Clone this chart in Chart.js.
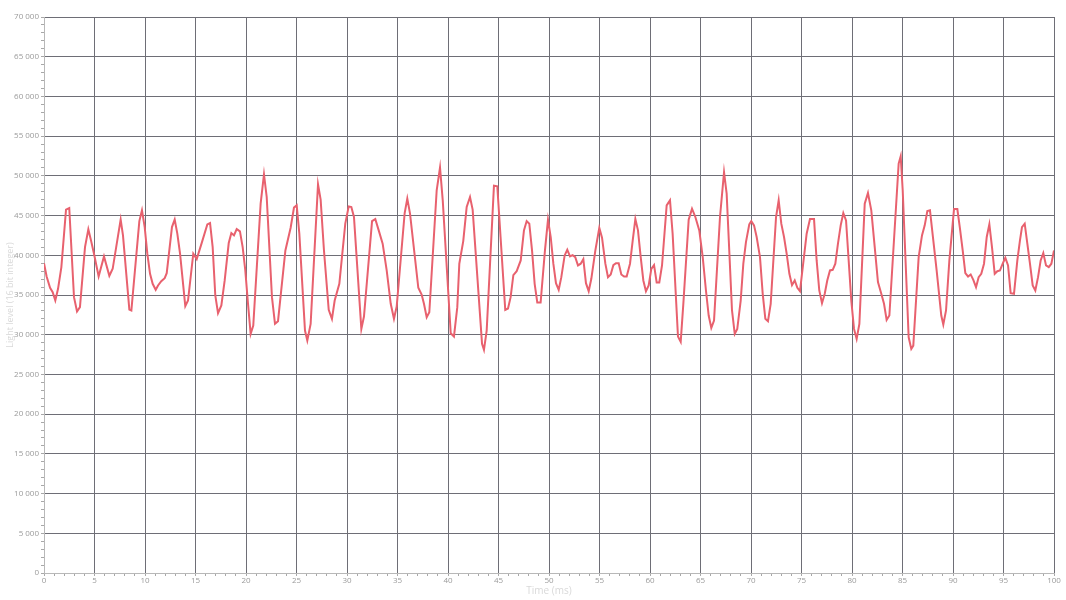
<!DOCTYPE html>
<html>
<head>
<meta charset="utf-8">
<script src="https://cdn.jsdelivr.net/npm/chart.js@4.4.1/dist/chart.umd.min.js"></script>
<style>
html,body{margin:0;padding:0;background:#fff;}
#wrap{width:1066px;height:600px;position:relative;}
</style>
</head>
<body>
<div id="wrap"><canvas id="c" width="1066" height="600"></canvas></div>
<script>
const times = [0.00,0.26,0.60,0.86,1.12,1.39,1.72,2.18,2.50,2.97,3.27,3.56,4.06,4.39,4.65,4.95,5.41,5.94,6.47,6.80,7.59,7.82,8.45,8.65,9.44,9.70,9.97,10.23,10.50,10.76,11.06,11.29,11.61,11.95,12.15,12.67,12.94,13.20,13.47,13.99,14.26,14.78,15.12,15.64,16.17,16.44,16.70,16.96,17.23,17.56,17.89,18.29,18.55,18.81,19.08,19.40,19.67,19.93,20.20,20.46,20.72,21.45,21.78,22.05,22.57,22.87,23.17,23.90,24.42,24.75,25.02,25.28,25.84,26.07,26.40,27.13,27.39,27.72,28.19,28.51,28.78,29.24,29.83,30.17,30.43,30.69,31.42,31.68,32.48,32.80,33.14,33.53,33.93,34.33,34.65,34.92,35.71,35.97,36.24,37.06,37.39,37.62,37.89,38.15,38.88,39.21,39.48,40.27,40.59,40.92,41.12,41.51,41.85,42.18,42.44,43.37,43.56,43.83,44.55,44.88,45.67,45.94,46.20,46.47,46.80,47.20,47.52,47.79,48.05,48.32,48.58,48.84,49.17,49.60,49.90,50.17,50.43,50.69,50.96,51.22,51.55,51.81,52.08,52.34,52.60,52.87,53.14,53.40,53.66,53.93,54.19,54.59,54.98,55.25,55.58,55.84,56.11,56.37,56.63,56.90,57.16,57.43,57.69,58.02,58.29,58.55,58.81,59.08,59.34,59.60,59.87,60.13,60.40,60.66,60.92,61.19,61.65,61.98,62.24,62.77,63.04,63.30,63.83,64.16,64.49,64.88,65.22,65.54,65.81,66.07,66.34,66.93,67.33,67.59,68.12,68.39,68.64,68.98,69.24,69.50,69.83,70.03,70.30,70.56,70.89,71.16,71.42,71.68,71.95,72.48,72.74,73.00,73.27,73.53,73.80,74.06,74.33,74.59,74.85,75.51,75.84,76.24,76.50,76.76,77.03,77.30,77.55,77.82,78.09,78.35,78.61,78.88,79.14,79.41,79.67,79.93,80.20,80.46,80.73,81.26,81.58,81.91,82.25,82.57,82.90,83.17,83.43,83.70,84.62,84.82,85.02,85.61,85.87,86.07,86.60,86.93,87.20,87.46,87.72,88.05,88.38,88.84,89.04,89.31,89.64,90.10,90.43,90.69,90.96,91.22,91.49,91.75,92.01,92.28,92.54,92.80,93.07,93.34,93.60,93.86,94.13,94.39,94.65,94.92,95.18,95.45,95.71,96.04,96.37,96.63,96.83,97.10,97.36,97.62,97.89,98.15,98.42,98.68,98.94,99.21,99.48,99.74,100.00];
const lightLevel = [39000,37330,35900,35360,34300,35780,38510,45750,45950,34730,32920,33470,41030,43260,41880,40200,37330,39860,37420,38300,44490,42500,33170,33050,44310,45660,43550,40200,37670,36410,35660,36200,36740,37120,37750,43550,44490,42720,40200,33600,34300,40200,39520,41660,43890,44060,41030,34940,32710,33680,36830,41540,42800,42500,43300,43010,41030,38090,33890,30110,31150,46500,50200,47340,34730,31370,31700,40610,43470,46000,46290,42720,30520,29260,31370,48940,47010,40610,33130,32000,34300,36410,43980,46160,46080,44820,30730,32290,44310,44560,43140,41460,38090,33890,32000,33550,45320,47130,45240,35910,35060,33890,32200,32830,48180,51040,46920,30180,29770,33470,38940,41790,46080,47340,45750,28850,28090,30520,48770,48690,33130,33300,34730,37500,38000,39350,43140,44310,43980,40610,36410,34060,34060,40610,44490,42300,38940,36490,35660,37250,39980,40700,39860,40020,39770,38720,38940,39520,36490,35480,37040,40610,43470,42220,38940,37250,37590,38760,39010,39010,37590,37330,37330,38940,41880,44560,43140,39770,36830,35480,36200,38300,38760,36580,36580,38720,46290,46920,42720,29770,29100,33890,44490,45870,44820,43140,39770,35570,32420,30860,31780,44820,50450,47760,33050,30110,30730,34300,38940,41660,43890,44310,43770,42300,39770,35150,32000,31700,33890,44820,46920,43980,42300,40200,37670,36240,36830,35910,35480,42720,44560,44560,39350,35570,33970,35150,36830,38090,38170,38940,41460,43770,45320,44400,39350,34300,30730,29470,31370,46500,47840,45660,41030,36620,35150,33890,31870,32420,51550,52470,48180,29680,28210,28630,39770,42500,43770,45570,45660,41880,38090,32420,31280,33050,39350,45820,45820,43350,40610,37750,37330,37590,36910,35990,37250,37670,38940,42300,43890,41030,37670,38000,38090,38940,39690,38720,35230,35150,39350,41880,43550,43980,41460,38940,36200,35570,37250,39350,40270,38720,38510,38940,40610];
const xMin = 0, xMax = 100, xStep = 1, xLabelEvery = 5;
const yMin = 0, yMax = 70000, yStep = 1000, yLabelEvery = 5000;
const xTitle = 'Time (ms)';
const yTitle = 'Light level (16 bit integer)';

function fmt(v){ return String(v).replace(/\B(?=(\d{3})+(?!\d))/g, ' '); }
const isMajor = (v, every) => Math.abs(v / every - Math.round(v / every)) < 1e-6;

const gridDark = '#6e6e76';
const tickGray = '#a8a8a8';
const labelGray = '#9a9a9a';
const titleGray = '#d9d9d9';

new Chart(document.getElementById('c'), {
  type: 'line',
  data: {
    datasets: [{
      data: times.map((t, i) => ({x: t, y: lightLevel[i]})),
      borderColor: '#e8616e',
      borderWidth: 2,
      pointRadius: 0,
      tension: 0,
      fill: false
    }]
  },
  options: {
    responsive: false,
    animation: false,
    devicePixelRatio: 1,
    layout: {padding: {left: 0, right: 12, top: 17, bottom: 0}},
    plugins: {legend: {display: false}, tooltip: {enabled: false}},
    scales: {
      x: {
        type: 'linear', min: xMin, max: xMax,
        afterFit: s => { s.height = 27; },
        ticks: {
          stepSize: xStep, autoSkip: false, maxRotation: 0, padding: 0,
          color: labelGray, font: {family: 'Open Sans', size: 8},
          callback: v => isMajor(v, xLabelEvery) ? fmt(v) : ''
        },
        grid: {
          color: c => isMajor(c.tick.value, xLabelEvery) ? gridDark : 'rgba(0,0,0,0)',
          tickColor: tickGray, tickLength: 3, lineWidth: 1
        },
        border: {color: '#b8b8b8'},
        title: {display: true, text: xTitle, color: titleGray, font: {family: 'Open Sans', size: 10}, padding: {top: 0, bottom: 3}}
      },
      y: {
        type: 'linear', min: yMin, max: yMax,
        afterFit: s => { s.width = 44; },
        ticks: {
          stepSize: yStep, autoSkip: false, padding: 2,
          color: labelGray, font: {family: 'Open Sans', size: 8},
          callback: v => isMajor(v, yLabelEvery) ? fmt(v) : ''
        },
        grid: {
          color: c => isMajor(c.tick.value, yLabelEvery) ? gridDark : 'rgba(0,0,0,0)',
          tickColor: tickGray, tickLength: 3, lineWidth: 1
        },
        border: {color: '#b8b8b8'},
        title: {display: true, text: yTitle, color: titleGray, font: {family: 'Open Sans', size: 9}, padding: {top: 5, bottom: 0}}
      }
    }
  }
});
</script>
</body>
</html>
